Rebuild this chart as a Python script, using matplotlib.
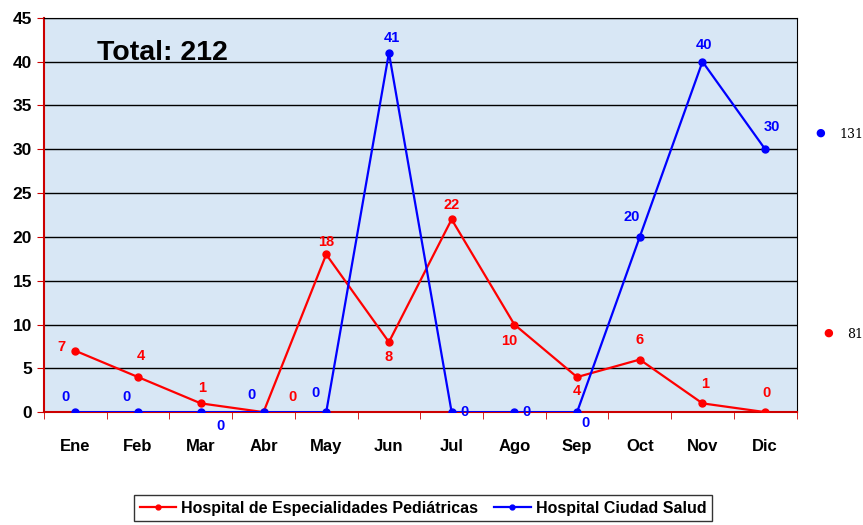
import matplotlib.pyplot as plt
import numpy as np

plt.rcParams['font.family'] = ['Liberation Sans', 'DejaVu Sans']

meses = ['Ene', 'Feb', 'Mar', 'Abr', 'May', 'Jun', 'Jul', 'Ago', 'Sep', 'Oct', 'Nov', 'Dic']
pediatricas = [7, 4, 1, 0, 18, 8, 22, 10, 4, 6, 1, 0]
ciudad_salud = [0, 0, 0, 0, 0, 41, 0, 0, 0, 20, 40, 30]

# desplazamiento de etiquetas en puntos (dx, dy), centro del texto
off_rojo = [(-10, 3), (2, 15), (1, 11), (21, 11), (0, 9), (0, -11), (0, 10), (-4, -12), (0, -10), (0, 14), (2, 14), (1, 14)]
off_azul = [(-7, 11), (-8, 11), (14, -10), (-9, 12), (-8, 14), (2, 11), (9, 0), (9, 0), (6, -8), (-6, 14), (1, 12), (5, 16)]

fig = plt.figure(figsize=(8.63, 5.25), dpi=100)
ax = fig.add_axes([0.051, 0.215, 0.872, 0.751])
ax.set_facecolor('#d8e7f5')

x = np.arange(len(meses))
ax.plot(x, pediatricas, color='#ff0000', lw=1.6, marker='o', ms=5, label='Hospital de Especialidades Pediátricas', zorder=3)
ax.plot(x, ciudad_salud, color='#0000ff', lw=1.6, marker='o', ms=5, label='Hospital Ciudad Salud', zorder=3)

for i in range(len(meses)):
    ax.annotate(str(pediatricas[i]), (x[i], pediatricas[i]), xytext=off_rojo[i], textcoords='offset points',
                ha='center', va='center', color='#ff0000', fontsize=10.5, fontweight='bold', annotation_clip=False)
    ax.annotate(str(ciudad_salud[i]), (x[i], ciudad_salud[i]), xytext=off_azul[i], textcoords='offset points',
                ha='center', va='center', color='#0000ff', fontsize=10.5, fontweight='bold', annotation_clip=False)

ax.set_xlim(-0.5, 11.5)
ax.set_ylim(0, 45)
ax.set_yticks(range(0, 50, 5))
ax.yaxis.grid(True, color='black', lw=1)
ax.set_axisbelow(True)

ax.set_xticks(x)
ax.set_xticklabels(meses, fontsize=12, fontweight='bold')
ax.tick_params(axis='x', length=0, pad=19)
ax.set_xticks(np.arange(-0.5, 12, 1), minor=True)
ax.tick_params(axis='x', which='minor', length=5, color='#cc0000')
ax.tick_params(axis='y', length=5, color='#cc0000', labelsize=12.5)
for lab in ax.get_yticklabels():
    lab.set_fontweight('bold')

ax.spines['left'].set_color('#cc0000')
ax.spines['bottom'].set_color('#cc0000')
ax.spines['left'].set_linewidth(1.5)
ax.spines['bottom'].set_linewidth(1.5)

ax.text(0.07, 0.91, 'Total: 212', transform=ax.transAxes, fontsize=20.5, fontweight='bold', va='center')

# totales a la derecha
fig.text(0.951, 1 - 133 / 525, '●', color='#0000ff', fontsize=8, ha='center', va='center', family='DejaVu Sans')
fig.text(0.973, 1 - 134 / 525, str(sum(ciudad_salud)), fontsize=9, ha='left', va='center', family='DejaVu Serif')
fig.text(0.960, 1 - 333 / 525, '●', color='#ff0000', fontsize=8, ha='center', va='center', family='DejaVu Sans')
fig.text(0.982, 1 - 334 / 525, str(sum(pediatricas)), fontsize=9, ha='left', va='center', family='DejaVu Serif')

leg = fig.legend(loc='center', bbox_to_anchor=(0.49, 0.032), ncol=2, frameon=True, fancybox=False,
                 edgecolor='black', handlelength=2.3, columnspacing=1.0, handletextpad=0.3,
                 prop={'weight': 'bold', 'size': 11.5}, borderpad=0.35, markerscale=0.7)
leg.get_frame().set_linewidth(1)

fig.savefig('out.png', dpi=100)
